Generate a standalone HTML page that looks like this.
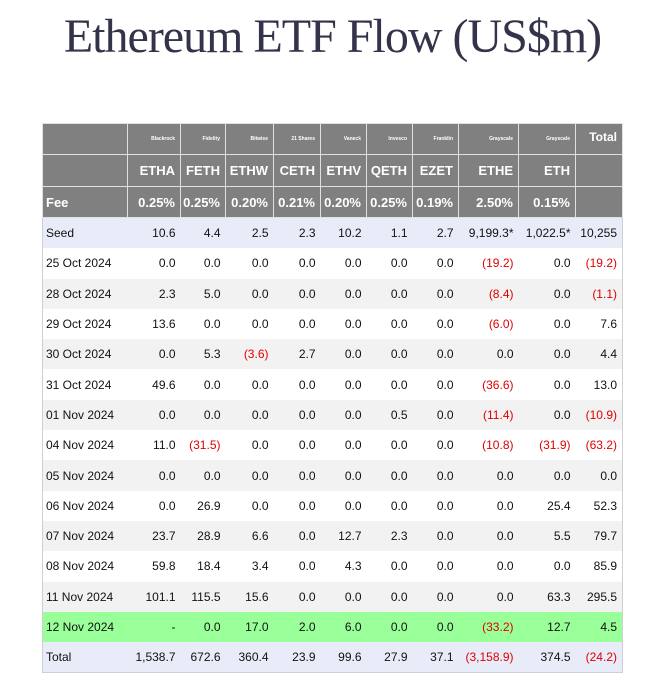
<!DOCTYPE html>
<html><head><meta charset="utf-8"><style>
body{margin:0;width:657px;height:693px;background:#fff;position:relative;overflow:hidden;font-family:"Liberation Sans",Arial,sans-serif}
h1{position:absolute;left:0;top:9px;width:665px;margin:0;text-align:center;font:48px "Liberation Serif",serif;color:#33334a;letter-spacing:-1px}
table{position:absolute;left:42px;top:123px;border-collapse:collapse;table-layout:fixed;width:580px;border:1px solid #d0d0d0}
td{font-size:12px;color:#111;text-align:right;padding:0 5px 0 0;height:30.3px;white-space:nowrap;overflow:hidden}
td:first-child{text-align:left;padding-left:3px}
tr.h td{background:#808080;color:#fff;font-weight:bold;border:1px solid #e0e0e0}
tr.h1 td{height:30px;font-size:5px;vertical-align:middle}
tr.h2 td{height:31px;font-size:13px}
tr.h3 td{height:30px;font-size:13px}
tr.h1 td.tot{font-size:12px;vertical-align:middle;line-height:14px}
tr.h1 td.tot span{position:relative;top:-2px}
.s td{background:#e8ecf8}
.g td{background:#f2f2f2}
.w td{background:#fff}
.gr td{background:#99ff99}
.n{color:#e00000}
</style></head><body>
<h1>Ethereum ETF Flow (US$m)</h1>
<table>
<colgroup><col style="width:85px"><col style="width:53px"><col style="width:45px"><col style="width:48px"><col style="width:47px"><col style="width:46px"><col style="width:46px"><col style="width:46px"><col style="width:60px"><col style="width:57px"><col style="width:47px"></colgroup>
<tr class="h h1"><td></td><td>Blackrock</td><td>Fidelity</td><td>Bitwise</td><td>21 Shares</td><td>Vaneck</td><td>Invesco</td><td>Franklin</td><td>Grayscale</td><td>Grayscale</td><td class="tot"><span>Total</span></td></tr>
<tr class="h h2"><td></td><td>ETHA</td><td>FETH</td><td>ETHW</td><td>CETH</td><td>ETHV</td><td>QETH</td><td>EZET</td><td>ETHE</td><td>ETH</td><td></td></tr>
<tr class="h h3"><td>Fee</td><td>0.25%</td><td>0.25%</td><td>0.20%</td><td>0.21%</td><td>0.20%</td><td>0.25%</td><td>0.19%</td><td>2.50%</td><td>0.15%</td><td></td></tr>
<tr class="s"><td>Seed</td><td>10.6</td><td>4.4</td><td>2.5</td><td>2.3</td><td>10.2</td><td>1.1</td><td>2.7</td><td>9,199.3*</td><td>1,022.5*</td><td>10,255</td></tr>
<tr class="w"><td>25 Oct 2024</td><td>0.0</td><td>0.0</td><td>0.0</td><td>0.0</td><td>0.0</td><td>0.0</td><td>0.0</td><td class="n">(19.2)</td><td>0.0</td><td class="n">(19.2)</td></tr>
<tr class="g"><td>28 Oct 2024</td><td>2.3</td><td>5.0</td><td>0.0</td><td>0.0</td><td>0.0</td><td>0.0</td><td>0.0</td><td class="n">(8.4)</td><td>0.0</td><td class="n">(1.1)</td></tr>
<tr class="w"><td>29 Oct 2024</td><td>13.6</td><td>0.0</td><td>0.0</td><td>0.0</td><td>0.0</td><td>0.0</td><td>0.0</td><td class="n">(6.0)</td><td>0.0</td><td>7.6</td></tr>
<tr class="g"><td>30 Oct 2024</td><td>0.0</td><td>5.3</td><td class="n">(3.6)</td><td>2.7</td><td>0.0</td><td>0.0</td><td>0.0</td><td>0.0</td><td>0.0</td><td>4.4</td></tr>
<tr class="w"><td>31 Oct 2024</td><td>49.6</td><td>0.0</td><td>0.0</td><td>0.0</td><td>0.0</td><td>0.0</td><td>0.0</td><td class="n">(36.6)</td><td>0.0</td><td>13.0</td></tr>
<tr class="g"><td>01 Nov 2024</td><td>0.0</td><td>0.0</td><td>0.0</td><td>0.0</td><td>0.0</td><td>0.5</td><td>0.0</td><td class="n">(11.4)</td><td>0.0</td><td class="n">(10.9)</td></tr>
<tr class="w"><td>04 Nov 2024</td><td>11.0</td><td class="n">(31.5)</td><td>0.0</td><td>0.0</td><td>0.0</td><td>0.0</td><td>0.0</td><td class="n">(10.8)</td><td class="n">(31.9)</td><td class="n">(63.2)</td></tr>
<tr class="g"><td>05 Nov 2024</td><td>0.0</td><td>0.0</td><td>0.0</td><td>0.0</td><td>0.0</td><td>0.0</td><td>0.0</td><td>0.0</td><td>0.0</td><td>0.0</td></tr>
<tr class="w"><td>06 Nov 2024</td><td>0.0</td><td>26.9</td><td>0.0</td><td>0.0</td><td>0.0</td><td>0.0</td><td>0.0</td><td>0.0</td><td>25.4</td><td>52.3</td></tr>
<tr class="g"><td>07 Nov 2024</td><td>23.7</td><td>28.9</td><td>6.6</td><td>0.0</td><td>12.7</td><td>2.3</td><td>0.0</td><td>0.0</td><td>5.5</td><td>79.7</td></tr>
<tr class="w"><td>08 Nov 2024</td><td>59.8</td><td>18.4</td><td>3.4</td><td>0.0</td><td>4.3</td><td>0.0</td><td>0.0</td><td>0.0</td><td>0.0</td><td>85.9</td></tr>
<tr class="g"><td>11 Nov 2024</td><td>101.1</td><td>115.5</td><td>15.6</td><td>0.0</td><td>0.0</td><td>0.0</td><td>0.0</td><td>0.0</td><td>63.3</td><td>295.5</td></tr>
<tr class="gr"><td>12 Nov 2024</td><td>-</td><td>0.0</td><td>17.0</td><td>2.0</td><td>6.0</td><td>0.0</td><td>0.0</td><td class="n">(33.2)</td><td>12.7</td><td>4.5</td></tr>
<tr class="s"><td>Total</td><td>1,538.7</td><td>672.6</td><td>360.4</td><td>23.9</td><td>99.6</td><td>27.9</td><td>37.1</td><td class="n">(3,158.9)</td><td>374.5</td><td class="n">(24.2)</td></tr>
</table>
</body></html>
